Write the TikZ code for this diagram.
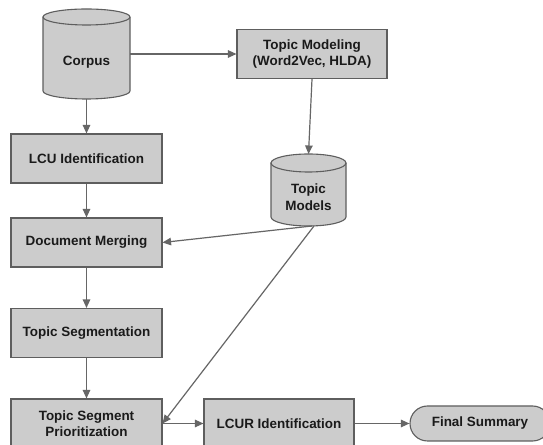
\documentclass[tikz,border=0pt]{standalone}
\usepackage{fontspec}
\setmainfont{Liberation Sans}
\usetikzlibrary{arrows.meta}
\definecolor{boxfill}{HTML}{CCCCCC}
\definecolor{boxline}{HTML}{5E5E5E}
\definecolor{arrowcol}{HTML}{666666}
\definecolor{txt}{HTML}{1A1A1A}
\tikzset{
  procbox/.style={draw=boxline, fill=boxfill, line width=1.1bp, minimum width=150bp, minimum height=49bp,
    align=center, inner sep=0pt, text=txt, font=\fontsize{13.5}{16.5}\selectfont\bfseries},
  lbl/.style={align=center, inner sep=0pt, text=txt, font=\fontsize{13.5}{16.5}\selectfont\bfseries},
  cyl/.style={draw=boxline, fill=boxfill, line width=1.1bp},
  conn/.style={draw=arrowcol, line width=1.2bp, -{Triangle[length=8.5bp,width=7.5bp]}},
}
\begin{document}
\begin{tikzpicture}[x=1bp,y=1bp]
\clip (0,0) rectangle (543,445);
\fill[white] (0,0) rectangle (543,445);
% Corpus cylinder
\path[cyl] (43,428) -- (43,354) arc[start angle=180,end angle=360,x radius=43.5,y radius=8]
  -- (130,428) arc[start angle=0,end angle=180,x radius=43.5,y radius=8] -- cycle;
\draw[boxline, line width=1.1bp] (43,428) arc[start angle=180,end angle=360,x radius=43.5,y radius=8];
\node[lbl, minimum width=87bp, minimum height=74bp] (corpus) at (86.5,383) {Corpus};
% Topic Models cylinder
\path[cyl] (271,282) -- (271,228) arc[start angle=180,end angle=360,x radius=37.5,y radius=9]
  -- (346,282) arc[start angle=0,end angle=180,x radius=37.5,y radius=9] -- cycle;
\draw[boxline, line width=1.1bp] (271,282) arc[start angle=180,end angle=360,x radius=37.5,y radius=9];
\node[lbl, minimum width=75bp, minimum height=54bp] (tmod) at (308.5,248) {Topic\\Models};
\coordinate (tmodtop) at (308.5,291);
\coordinate (tmb1) at (312,219);
\coordinate (tmb2) at (314,219);
% boxes
\node[procbox] (tm) at (312,391) {Topic Modeling\\(Word2Vec, HLDA)};
\node[procbox, minimum width=151bp] (lcu) at (86.5,286.5) {LCU Identification};
\node[procbox, minimum width=151bp] (dm) at (86.5,202.5) {Document Merging};
\node[procbox, minimum width=151bp] (ts) at (86.5,112) {Topic Segmentation};
\node[procbox, minimum width=151bp] (tsp) at (86.5,21.5) {Topic Segment\\Prioritization};
\node[procbox] (lcur) at (279,21.5) {LCUR Identification};
\node[draw=boxline, fill=boxfill, line width=1.1bp, rounded corners=17.5bp, minimum width=140bp,
  minimum height=35bp, inner sep=0pt, text=txt, font=\fontsize{13.5}{16.5}\selectfont\bfseries] (fs) at (480,21.5) {Final Summary};
% connectors
\draw[conn] (corpus.east |- tm.west) -- (tm.west);
\draw[conn] (corpus.south) -- (lcu.north);
\draw[conn] (tm.south) -- (tmodtop);
\draw[conn] (lcu.south) -- (dm.north);
\draw[conn] (tmb1) -- (dm.east);
\draw[conn] (dm.south) -- (ts.north);
\draw[conn] (ts.south) -- (tsp.north);
\draw[conn] (tmb2) -- (tsp.east);
\draw[conn] (tsp.east) -- (lcur.west);
\draw[conn] (lcur.east) -- (fs.west);
\end{tikzpicture}
\end{document}
